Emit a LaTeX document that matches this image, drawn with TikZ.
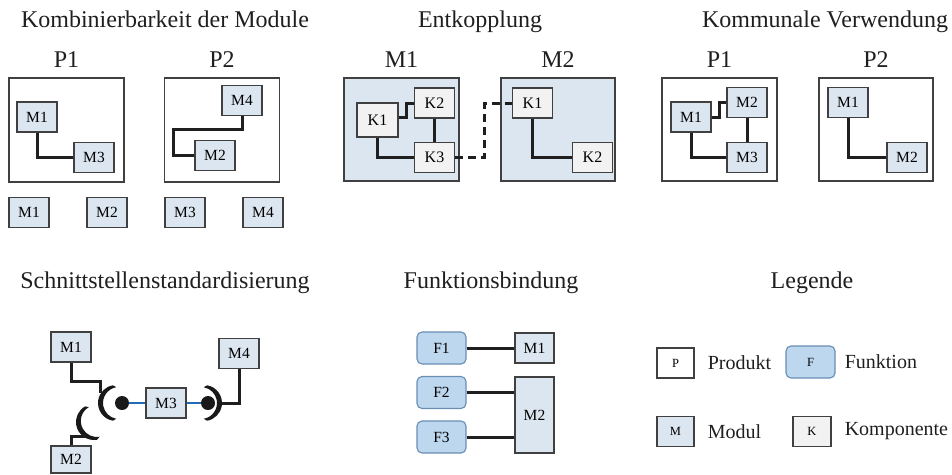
\documentclass[tikz,border=0pt]{standalone}
\usepackage{fontspec}
\setmainfont{Liberation Serif}
\usetikzlibrary{positioning}
\definecolor{boxline}{HTML}{404040}
\definecolor{modfill}{HTML}{DCE6F0}
\definecolor{kompfill}{HTML}{F2F2F2}
\definecolor{funcfill}{HTML}{BDD7EE}
\definecolor{funcline}{HTML}{6A8DB3}
\definecolor{linkblue}{HTML}{1F6DB5}
\newcommand{\headsize}{\fontsize{24}{28}\selectfont}
\newcommand{\boxsize}{\fontsize{15.5}{18}\selectfont}
\newcommand{\legsize}{\fontsize{20}{24}\selectfont}
\newcommand{\letsize}{\fontsize{12.5}{14}\selectfont}

\begin{document}
\begin{tikzpicture}[x=1pt,y=-1pt,node distance=13pt,
    heading/.style={anchor=base,font=\headsize,text=black!88},
    prodframe/.style={draw=boxline,line width=1.1pt,minimum width=115,minimum height=104,inner sep=0},
    modbox/.style={draw=boxline,fill=modfill,line width=1.1pt,minimum width=40,minimum height=30,inner sep=0,font=\boxsize},
    kompbox/.style={modbox,fill=kompfill,font=\fontsize{16}{18}\selectfont},
    funcbox/.style={draw=funcline,fill=funcfill,line width=1.1pt,rounded corners=5pt,minimum width=49,minimum height=32,inner sep=0,font=\boxsize},
    legtext/.style={anchor=west,font=\legsize,text=black!88,inner sep=0},
    connect/.style={draw=black!88,line width=3pt},
    bluelink/.style={draw=linkblue,line width=2.4pt},
    ball/.style={circle,fill=black!90,minimum size=14,inner sep=0}]
  \useasboundingbox (0,0) rectangle (952,474);

  \node (t-kombi)   [heading] at (165,27)  {Kombinierbarkeit der Module};
  \node (t-ent)     [heading] at (480,27)  {Entkopplung};
  \node (t-komm)    [heading] at (825,27)  {Kommunale Verwendung};
  \node (t-schnitt) [heading] at (165,288) {Schnittstellenstandardisierung};
  \node (t-fkt)     [heading] at (491,288) {Funktionsbindung};
  \node (t-leg)     [heading] at (812,288) {Legende};

  \node (a-p1) [heading] at (66.5,67) {P1};
  \node (a-p2) [heading] at (222,67)  {P2};
  \node (a-frame1) [prodframe] at (66.5,130) {};
  \node (a-frame2) [prodframe] at (222,130)  {};
  \node (a-m1) [modbox] at (37,117)    {M1};
  \node (a-m3) [modbox] at (94,157.5)  {M3};
  \node (b-m4) [modbox] at (242,100.5) {M4};
  \node (b-m2) [modbox] at (215,155.5) {M2};
  \node (c-m1) [modbox] at (29,212.5)  {M1};
  \node (c-m2) [modbox] at (107,212.5) {M2};
  \node (c-m3) [modbox] at (185,212.5) {M3};
  \node (c-m4) [modbox] at (263,212.5) {M4};
  \draw[connect] (a-m1.south) |- (a-m3.west);
  \draw[connect] (b-m4.south) -- ++(0,13) -| ([xshift=-21pt]b-m2.west) -- (b-m2.west);

  \node (e-m1) [heading] at (401.5,67) {M1};
  \node (e-m2) [heading] at (558,67)   {M2};
  \node (e-frame1) [prodframe,fill=modfill,minimum height=103] at (401.5,129.5) {};
  \node (e-frame2) [prodframe,fill=modfill,minimum width=114,minimum height=103] at (558,129.5) {};
  \node (e-k1) [kompbox,minimum width=41,minimum height=34] at (377.5,120) {K1};
  \node (e-k2) [kompbox] at (434.5,103)   {K2};
  \node (e-k3) [kompbox] at (434.5,157.5) {K3};
  \node (f-k1) [kompbox] at (532.5,103)   {K1};
  \node (f-k2) [kompbox] at (592.5,157.5) {K2};
  \draw[connect] ([yshift=3pt]e-k1.east) -- ++(8,0) |- (e-k2.west);
  \draw[connect] (e-k2) -- (e-k3);
  \draw[connect] (e-k1.south) |- (e-k3.west);
  \draw[connect,dash pattern=on 8pt off 5pt] (e-k3.east) -- ++(29,0) |- (f-k1.west);
  \draw[connect] (f-k1.south) |- (f-k2.west);

  \node (g-p1) [heading] at (719.5,67) {P1};
  \node (g-p2) [heading] at (876,67)   {P2};
  \node (g-frame1) [prodframe,minimum height=103] at (719.5,129.5) {};
  \node (g-frame2) [prodframe,minimum width=114,minimum height=103] at (876,129.5) {};
  \node (g-m1) [modbox] at (691,117)   {M1};
  \node (g-m2) [modbox] at (747,102.5) {M2};
  \node (g-m3) [modbox] at (747,157.5) {M3};
  \node (h-m1) [modbox] at (848,102.5) {M1};
  \node (h-m2) [modbox] at (907,157.5) {M2};
  \draw[connect] (g-m1.east) -- ++(8,0) |- (g-m2.west);
  \draw[connect] (g-m2) -- (g-m3);
  \draw[connect] (g-m1.south) |- (g-m3.west);
  \draw[connect] (h-m1.south) |- (h-m2.west);

  \node (s-m1) [modbox] at (71,347)    {M1};
  \node (s-m4) [modbox] at (239,353.5) {M4};
  \node (s-m3) [modbox] at (166,403)   {M3};
  \node (s-m2) [modbox,minimum height=27] at (71,459.5) {M2};
  \node (ball1) [ball] at (122,403) {};
  \node (ball2) [ball] at (208,403) {};
  \coordinate (sock1-in) at (100,393);
  \coordinate (sock2-in) at (84,434);
  \coordinate (sock3-out) at (222,403);
  \fill[black!90,shift={(116,403)}] (100:18) arc[start angle=100,end angle=260,radius=18]
    -- ++(3.35,1.97) arc[start angle=260,end angle=100,radius=16] -- cycle;
  \fill[black!90,shift={(94,422)},rotate=20] (100:18) arc[start angle=100,end angle=260,radius=18]
    -- ++(3.35,1.97) arc[start angle=260,end angle=100,radius=16] -- cycle;
  \fill[black!90,shift={(204,403)},rotate=180] (100:18) arc[start angle=100,end angle=260,radius=18]
    -- ++(3.35,1.97) arc[start angle=260,end angle=100,radius=16] -- cycle;
  \draw[connect] (s-m1.south) -- ++(0,19) -| (sock1-in);
  \draw[connect] (s-m2.north) -- ++(0,-9) -| (sock2-in);
  \draw[connect] (s-m4.south) |- (sock3-out);
  \draw[bluelink] (ball1) -- (s-m3);
  \draw[bluelink] (s-m3) -- (ball2);

  \node (fb-f1) [funcbox] at (441.5,348)   {F1};
  \node (fb-f2) [funcbox] at (441.5,392.5) {F2};
  \node (fb-f3) [funcbox] at (441.5,437)   {F3};
  \node (fb-m1) [modbox,minimum width=39] at (534.5,348) {M1};
  \node (fb-m2) [modbox,minimum width=39,minimum height=76] at (534.5,415) {M2};
  \draw[connect] (fb-f1) -- (fb-m1);
  \draw[connect] (fb-f2) -- (fb-f2 -| fb-m2.west);
  \draw[connect] (fb-f3) -- (fb-f3 -| fb-m2.west);

  \node (lg-p) [modbox,fill=white,minimum width=37,font=\letsize] at (675.5,363) {P};
  \node (lg-ptext) [legtext,right=of lg-p] {Produkt};
  \node (lg-f) [funcbox,font=\letsize] at (810.5,362) {F};
  \node (lg-ftext) [legtext,right=9pt of lg-f] {Funktion};
  \node (lg-m) [modbox,minimum width=37,font=\letsize] at (675.5,431.5) {M};
  \node (lg-mtext) [legtext,right=of lg-m] {Modul};
  \node (lg-k) [kompbox,minimum width=38,font=\letsize] at (812,431.5) {K};
  \node (lg-ktext) [legtext,right=of lg-k] {Komponente};
\end{tikzpicture}
\end{document}
